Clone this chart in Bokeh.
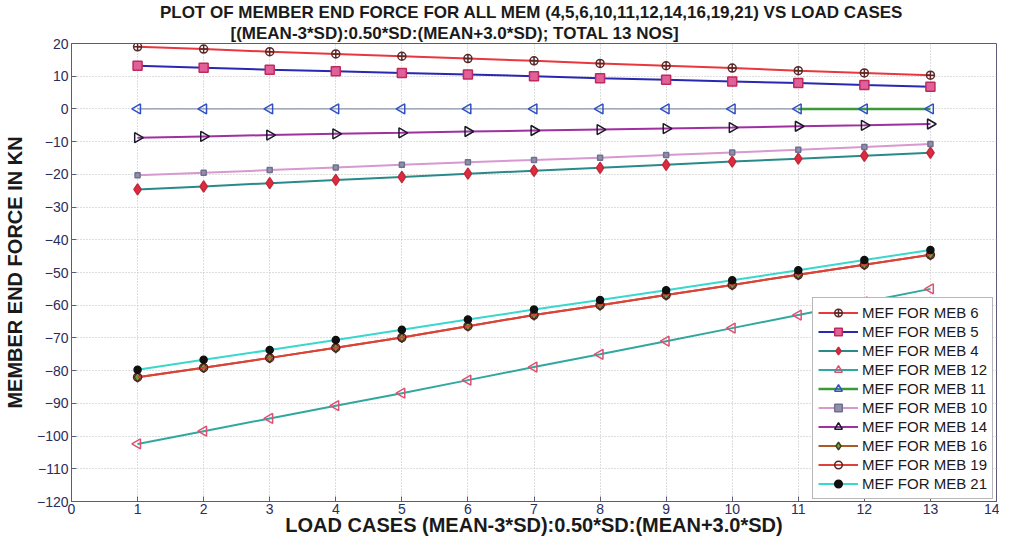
import math
from bokeh.plotting import figure
from bokeh.models import Range1d, FixedTicker, Legend, LegendItem, Title
from bokeh.embed import file_html
from bokeh.resources import INLINE

# ---------------- data ----------------
load_cases = [1, 2, 3, 4, 5, 6, 7, 8, 9, 10, 11, 12, 13]
x_ticks = [0, 1, 2, 3, 4, 5, 6, 7, 8, 9, 10, 11, 12, 13, 14]
y_ticks = [-120, -110, -100, -90, -80, -70, -60, -50, -40, -30, -20, -10, 0, 10, 20]

mef_meb6 = [19.0, 18.3, 17.5, 16.8, 16.1, 15.4, 14.7, 13.9, 13.2, 12.5, 11.7, 11.0, 10.3]
mef_meb5 = [13.2, 12.6, 12.0, 11.5, 11.0, 10.5, 10.0, 9.4, 8.9, 8.4, 7.9, 7.3, 6.8]
mef_meb4 = [-24.6, -23.7, -22.7, -21.7, -20.8, -19.8, -18.9, -18.0, -17.1, -16.1, -15.2, -14.3, -13.4]
mef_meb12 = [-102.4, -98.5, -94.6, -90.7, -86.9, -82.9, -78.9, -75.0, -71.0, -67.0, -63.0, -59.0, -55.0]
mef_meb11 = [0, 0, 0, 0, 0, 0, 0, 0, 0, 0, 0, 0, 0]
mef_meb10 = [-20.3, -19.5, -18.7, -17.9, -17.1, -16.3, -15.6, -14.9, -14.1, -13.3, -12.5, -11.6, -10.7]
mef_meb14 = [-8.8, -8.4, -8.0, -7.6, -7.3, -6.9, -6.6, -6.3, -6.0, -5.7, -5.3, -5.0, -4.6]
mef_meb16 = [-82.0, -79.1, -76.1, -73.0, -69.9, -66.4, -63.0, -60.0, -56.9, -53.8, -50.7, -47.6, -44.6]
mef_meb19 = [-82.0, -79.1, -76.1, -73.0, -69.9, -66.4, -63.0, -60.0, -56.9, -53.8, -50.7, -47.6, -44.6]
mef_meb21 = [-79.7, -76.7, -73.7, -70.6, -67.5, -64.4, -61.3, -58.4, -55.4, -52.4, -49.3, -46.2, -43.1]

title_line1 = "PLOT OF  MEMBER END FORCE FOR ALL MEM (4,5,6,10,11,12,14,16,19,21) VS LOAD CASES"
title_line2 = "[(MEAN-3*SD):0.50*SD:(MEAN+3.0*SD); TOTAL 13 NOS]"
x_title = "LOAD CASES (MEAN-3*SD):0.50*SD:(MEAN+3.0*SD)"
y_title = "MEMBER END FORCE IN KN"

FONT = "Liberation Sans"
AX = "#5c5c78"
TXT = "#2c2c5c"
DARK = "#1a1a1a"

p = figure(width=999, height=541, x_range=Range1d(0, 14), y_range=Range1d(-120, 20),
           output_backend="svg", toolbar_location=None,
           min_border_left=63, min_border_right=3, min_border_top=41, min_border_bottom=40)
p.background_fill_color = "white"
p.border_fill_color = "white"
p.outline_line_color = AX
p.outline_line_width = 1

# title (two lines)
p.title.text = title_line1
p.title.align = "center"
p.title.text_font = FONT
p.title.text_font_size = "17px"
p.title.text_font_style = "bold"
p.title.text_color = DARK
p.title.standoff = 0
t2 = Title(text=title_line2, align="left", offset=159, text_font=FONT, text_font_size="17px",
           text_font_style="bold", text_color=DARK, standoff=1)
p.add_layout(t2, "above")

p.xaxis.ticker = FixedTicker(ticks=x_ticks)
p.yaxis.ticker = FixedTicker(ticks=y_ticks)
for ax in (p.xaxis, p.yaxis):
    ax.axis_line_color = AX
    ax.major_tick_line_color = AX
    ax.major_tick_in = 5
    ax.major_tick_out = 0
    ax.minor_tick_line_color = None
    ax.major_label_text_font = FONT
    ax.major_label_text_font_size = "14px"
    ax.major_label_text_color = TXT
    ax.axis_label_text_font = FONT
    ax.axis_label_text_font_style = "bold"
    ax.axis_label_text_color = DARK
p.xaxis.axis_label = x_title
p.xaxis.axis_label_text_font_size = "20px"
p.xaxis.major_label_standoff = 2
p.xaxis.axis_label_standoff = -3
p.yaxis.axis_label = y_title
p.yaxis.axis_label_text_font_size = "20px"
p.yaxis.major_label_standoff = 3
p.yaxis.axis_label_standoff = 8

p.grid.grid_line_color = "#bcbcbc"
p.grid.grid_line_dash = "1 2"
p.grid.grid_line_width = 1

LW = 2
series = [
    ("MEF FOR MEB 6", mef_meb6, "#e8383d", "circle_cross", None, "#5a2a2a", 8, 0),
    ("MEF FOR MEB 5", mef_meb5, "#2828b0", "square", "#e0609a", "#c02a5a", 9, 0),
    ("MEF FOR MEB 4", mef_meb4, "#2a8a8a", "diamond", "#e02a40", "#c02a3a", 11, 0),
    ("MEF FOR MEB 12", mef_meb12, "#30a8a0", "triangle", None, "#e05070", 10, math.pi / 2),
    ("MEF FOR MEB 11", mef_meb11, "#3a9a3a", "triangle", None, "#3050c8", 10, math.pi / 2),
    ("MEF FOR MEB 10", mef_meb10, "#d898d0", "square", "#9090a8", "#707090", 5, 0),
    ("MEF FOR MEB 14", mef_meb14, "#a030a0", "triangle", None, "#1a1a2a", 10, -math.pi / 2),
    ("MEF FOR MEB 16", mef_meb16, "#a85a28", "diamond", "#70a040", "#404020", 10, 0),
    ("MEF FOR MEB 19", mef_meb19, "#e0403a", "circle", None, "#5a2020", 8, 0),
    ("MEF FOR MEB 21", mef_meb21, "#38d8cc", "circle", "#101010", "#101010", 7, 0),
]

items = []
for name, vals, lc, mk, mfill, mline, size, ang in series:
    if name == "MEF FOR MEB 11":
        p.line(load_cases[:11], vals[:11], line_color="#8a94a8", line_width=1.2)
        lr = p.line(load_cases[10:], vals[10:], line_color=lc, line_width=2.5)
    else:
        lr = p.line(load_cases, vals, line_color=lc, line_width=LW)
    sr = p.scatter(load_cases, vals, marker=mk, size=size, angle=ang,
                   fill_color=mfill, fill_alpha=1.0 if mfill else 0,
                   line_color=mline, line_width=1.5)
    items.append(LegendItem(label=name, renderers=[lr, sr]))

legend = Legend(items=items, location=(741, 2))
legend.label_text_font = FONT
legend.label_text_font_size = "15px"
legend.label_text_color = DARK
legend.glyph_width = 40
legend.glyph_height = 19
legend.label_height = 19
legend.label_standoff = 4
legend.spacing = 0
legend.padding = 5
legend.margin = 0
legend.border_line_color = "#707070"
legend.border_line_width = 1
legend.background_fill_color = "white"
legend.background_fill_alpha = 1
p.add_layout(legend, "center")

open("out.html", "w").write(file_html(p, INLINE))
